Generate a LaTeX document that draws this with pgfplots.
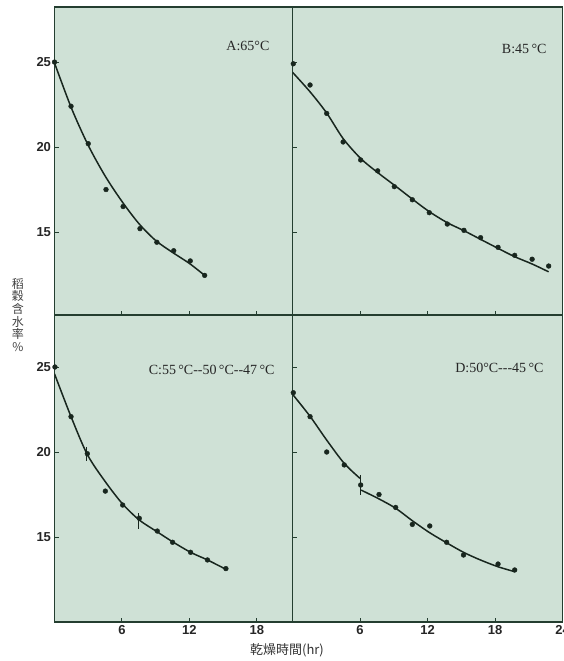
\documentclass[border=0pt]{standalone}
\usepackage{pgfplots}
\pgfplotsset{compat=1.18}
\usepackage{fontspec}
\setmainfont{Liberation Serif}
\newfontfamily\sansb{Liberation Sans}
\newfontfamily\cjk{Noto Sans CJK TC}

\definecolor{panelbg}{RGB}{207,225,214}
\definecolor{framec}{RGB}{36,62,48}
\definecolor{ink}{RGB}{24,38,30}

\tikzset{lab/.style={font=\fontsize{14}{14}\selectfont, anchor=east, text=black!85}}
\pgfplotsset{
  panel/.style={scale only axis, anchor=south west,
    axis background/.style={fill=panelbg},
    axis line style={framec, line width=1.5pt},
    tick align=inside, xtick pos=bottom, ytick pos=left,
    xtick={6,12,18,24}, ytick={15,20,25},
    major tick length=4pt, tick style={framec, line width=1pt},
    ticklabel style={font=\sansb\bfseries\fontsize{13}{13}\selectfont, text=black!85},
    /pgf/number format/assume math mode=true},
  pts/.style={only marks, mark=*, mark size=2.4pt, ink},
  fitline/.style={no marks, smooth, ink, line width=1.5pt},
  tickbar/.style={no marks, ink, line width=1.2pt}
}

\begin{document}
\begin{tikzpicture}
% A: top left
\begin{axis}[panel, at={(54.5pt,346pt)}, width=238pt, height=308pt,
  xmin=0, xmax=21.16, ymin=10.12, ymax=28.24, xticklabels={}]
\addplot[pts] coordinates {(0,25.0)(1.47,22.4)(3.0,20.2)(4.58,17.5)(6.1,16.5)(7.6,15.2)(9.1,14.4)(10.6,13.9)(12.07,13.3)(13.35,12.45)};
\addplot[fitline] coordinates {(0,24.95)(1.5,22.3)(3,20.1)(4.5,18.3)(6,16.8)(7.5,15.5)(9,14.5)(10.5,13.8)(12,13.15)(13.35,12.45)};
\node[lab] at (axis cs:19.42,25.94) {A:65°C};
\end{axis}
% B: top right
\begin{axis}[panel, at={(292.5pt,346pt)}, width=270pt, height=308pt,
  xmin=0, xmax=24, ymin=10.12, ymax=28.24, xticklabels={}, yticklabels={}]
\addplot[pts] coordinates {(0.07,24.9)(1.56,23.65)(3.04,21.98)(4.5,20.3)(6.06,19.24)(7.57,18.6)(9.05,17.67)(10.65,16.9)(12.16,16.14)(13.76,15.47)(15.24,15.1)(16.72,14.67)(18.27,14.1)(19.75,13.63)(21.3,13.4)(22.77,13.0)};
\addplot[fitline] coordinates {(0,24.4)(1.56,23.25)(3.04,22.0)(4.5,20.5)(6.06,19.33)(7.57,18.5)(9.05,17.76)(10.65,16.94)(12.16,16.2)(13.76,15.55)(15.24,15.08)(16.72,14.57)(18.27,14.04)(19.75,13.55)(21.3,13.12)(22.77,12.66)};
\node[lab] at (axis cs:22.89,25.76) {B:45\,°C};
\end{axis}
% C: bottom left
\begin{axis}[panel, at={(54.5pt,39pt)}, width=238pt, height=307pt,
  xmin=0, xmax=21.16, ymin=10.0, ymax=28.06]
\addplot[pts] coordinates {(0.04,25.0)(1.47,22.08)(2.92,19.9)(4.52,17.7)(6.06,16.88)(7.54,16.1)(9.14,15.35)(10.5,14.69)(12.1,14.1)(13.6,13.65)(15.24,13.14)};
\addplot[fitline] coordinates {(0,24.6)(1.47,22.08)(2.92,19.85)(4.52,18.25)(6.06,16.94)(7.54,16.0)(9.14,15.3)(10.5,14.72)(12.1,14.1)(13.6,13.65)(15.24,13.1)};
\addplot[tickbar] coordinates {(2.86,20.3)(2.86,19.5)};
\addplot[tickbar] coordinates {(7.45,16.4)(7.45,15.5)};
\node[lab] at (axis cs:19.87,24.82) {C:55\,°C-{}-50\,°C-{}-47\,°C};
\end{axis}
% D: bottom right
\begin{axis}[panel, at={(292.5pt,39pt)}, width=270pt, height=307pt,
  xmin=0, xmax=24, ymin=10.0, ymax=28.06, yticklabels={}]
\addplot[pts] coordinates {(0.07,23.49)(1.56,22.08)(3.04,20.0)(4.6,19.24)(6.06,18.06)(7.69,17.5)(9.17,16.74)(10.65,15.74)(12.2,15.65)(13.7,14.69)(15.2,13.94)(18.27,13.41)(19.75,13.06)};
\addplot[fitline] coordinates {(0,23.4)(1.56,22.1)(3.04,20.7)(4.6,19.33)(6.0,18.45)};
\addplot[fitline] coordinates {(6.1,17.76)(7.69,17.24)(9.17,16.69)(10.65,15.96)(12.2,15.25)(13.7,14.66)(15.2,14.1)(16.7,13.65)(18.27,13.25)(19.75,12.96)};
\addplot[tickbar] coordinates {(6.06,18.65)(6.06,17.45)};
\node[lab] at (axis cs:22.62,24.94) {D:50°C-{}-{}-45\,°C};
\end{axis}
% axis titles
\node[font=\cjk\fontsize{12}{12.7}\selectfont, align=center, text=black!75] at (18pt,346pt) {稻\\穀\\含\\水\\率\\\%};
\node[font=\cjk\fontsize{13}{13}\selectfont, text=black!80] at (287pt,11pt) {乾燥時間(hr)};
\pgfresetboundingbox
\path[use as bounding box] (0pt,0pt) rectangle (564pt,661pt);
\end{tikzpicture}
\end{document}
